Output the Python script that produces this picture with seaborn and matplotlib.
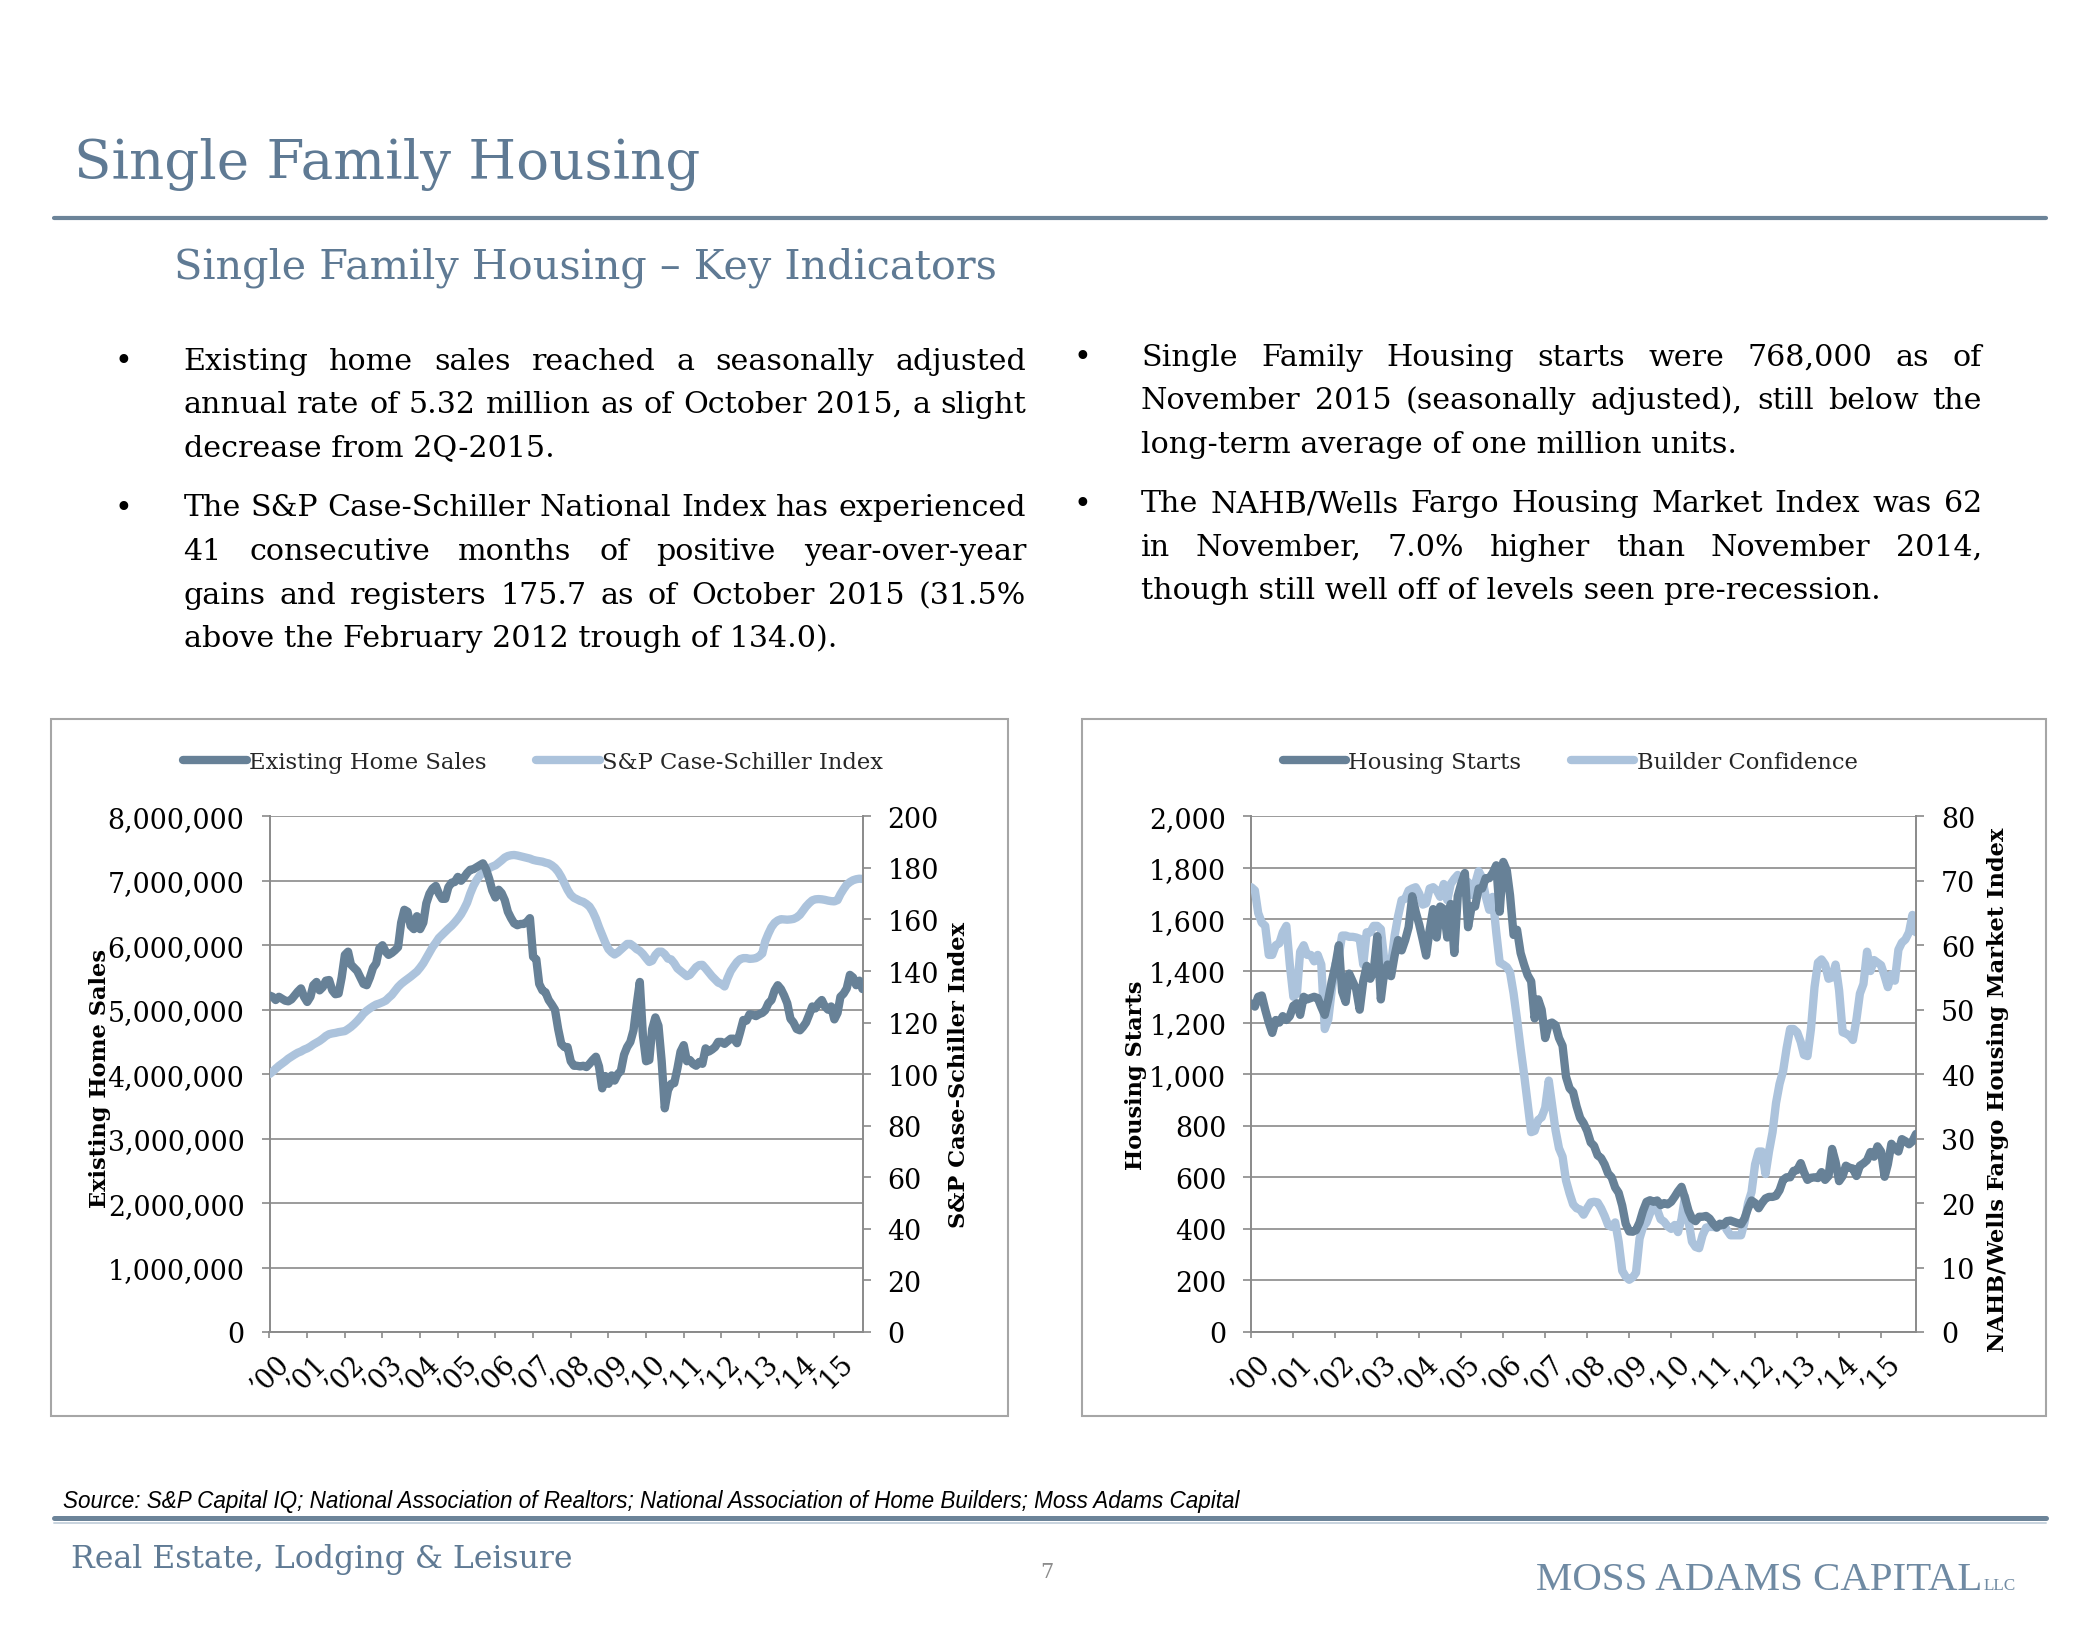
import matplotlib
matplotlib.use("Agg")
import matplotlib.pyplot as plt
import matplotlib.ticker as mticker
from matplotlib.lines import Line2D
from matplotlib.patches import Rectangle
import seaborn as sns
import pandas as pd

# ---- data ----
# existing home sales, millions SAAR, Jan 2000 - Oct 2015
existing_sales_mil = [
    5.22, 5.20, 5.15, 5.20, 5.17, 5.14, 5.13, 5.16, 5.22, 5.28, 5.33, 5.20,
    5.12, 5.20, 5.38, 5.43, 5.30, 5.35, 5.45, 5.46, 5.30, 5.24, 5.25, 5.50,
    5.85, 5.90, 5.70, 5.65, 5.60, 5.50, 5.40, 5.38, 5.50, 5.65, 5.72, 5.95,
    6.00, 5.90, 5.85, 5.88, 5.92, 5.97, 6.35, 6.55, 6.52, 6.30, 6.25, 6.45,
    6.25, 6.35, 6.65, 6.80, 6.88, 6.92, 6.80, 6.72, 6.72, 6.90, 6.97, 6.98,
    7.06, 7.00, 7.05, 7.12, 7.17, 7.18, 7.21, 7.24, 7.27, 7.18, 7.03, 6.85,
    6.74, 6.86, 6.81, 6.70, 6.52, 6.42, 6.34, 6.31, 6.33, 6.33, 6.36, 6.42,
    5.82, 5.78, 5.40, 5.30, 5.27, 5.15, 5.08, 5.00, 4.70, 4.47, 4.42, 4.42,
    4.20, 4.13, 4.13, 4.12, 4.13, 4.11, 4.16, 4.22, 4.27, 4.12, 3.78, 3.97,
    3.85, 3.98, 3.90, 4.00, 4.05, 4.30, 4.42, 4.50, 4.68, 5.07, 5.43, 4.60,
    4.20, 4.22, 4.70, 4.88, 4.75, 4.20, 3.47, 3.75, 3.85, 3.86, 4.09, 4.35,
    4.45, 4.20, 4.22, 4.16, 4.13, 4.19, 4.16, 4.40, 4.35, 4.38, 4.42, 4.50,
    4.50, 4.47, 4.51, 4.55, 4.55, 4.48, 4.65, 4.84, 4.83, 4.93, 4.92, 4.90,
    4.93, 4.95, 4.99, 5.10, 5.15, 5.30, 5.38, 5.32, 5.22, 5.10, 4.86, 4.80,
    4.70, 4.68, 4.73, 4.80, 4.92, 5.05, 5.02, 5.10, 5.15, 5.05, 5.00, 5.05,
    4.85, 4.95, 5.20, 5.25, 5.33, 5.54, 5.50, 5.38, 5.45, 5.32,
]

# S&P Case-Shiller national index, Jan 2000 - Oct 2015
case_shiller = [
    100.0, 101.0, 102.1, 103.2, 104.1, 105.0, 106.0, 106.8, 107.6, 108.3, 108.8, 109.5,
    110.0, 110.7, 111.5, 112.2, 112.9, 113.8, 114.8, 115.5, 115.8, 116.0, 116.3, 116.5,
    116.7, 117.5, 118.3, 119.4, 120.6, 122.0, 123.5, 124.6, 125.5, 126.3, 127.0, 127.4,
    127.9, 128.5, 129.6, 130.7, 132.2, 133.8, 135.0, 136.0, 136.9, 137.8, 138.8, 139.8,
    141.3, 143.0, 145.0, 147.2, 149.3, 151.0, 152.8, 154.0, 155.2, 156.4, 157.5, 158.8,
    160.3, 162.0, 164.0, 166.5, 170.0, 173.0, 175.2, 177.0, 178.1, 179.0, 179.9, 180.5,
    181.0, 182.0, 182.9, 184.0, 184.6, 184.9, 185.0, 184.8, 184.5, 184.2, 183.9, 183.6,
    183.1, 182.8, 182.6, 182.4, 182.0, 181.7, 181.0, 180.0, 178.5, 176.5, 174.0, 171.5,
    169.5, 168.4, 167.8, 167.2, 166.8, 166.0, 165.0, 163.0, 160.3, 157.0, 154.0, 151.0,
    148.5, 147.2, 146.4, 147.2, 148.3, 149.4, 150.5, 150.5, 149.6, 148.5, 147.8, 146.6,
    145.0, 143.5, 144.0, 146.2, 147.5, 147.5, 146.5, 144.8, 144.5, 143.0, 141.0, 140.0,
    139.0, 138.0, 138.5, 140.0, 141.5, 142.3, 142.4, 141.0, 139.5, 138.0, 136.7, 135.5,
    135.0, 134.0, 137.2, 140.0, 141.8, 143.5, 144.6, 145.0, 145.0, 144.7, 144.8, 145.0,
    145.7, 146.8, 151.5, 154.5, 157.0, 158.7, 159.6, 160.1, 160.0, 159.9, 160.0, 160.2,
    160.8, 161.8, 163.3, 165.0, 166.3, 167.4, 167.8, 167.9, 167.8, 167.6, 167.3, 167.1,
    167.0, 167.5, 169.8, 171.8, 173.5, 174.5, 175.2, 175.6, 175.8, 175.7,
]

# single family housing starts, thousands SAAR, Jan 2000 - Nov 2015
housing_starts = [
    1274, 1262, 1300, 1305, 1250, 1200, 1160, 1210, 1200, 1225, 1210, 1225,
    1265, 1275, 1230, 1300, 1290, 1295, 1300, 1295, 1260, 1230, 1290, 1360,
    1420, 1500, 1320, 1280, 1390, 1360, 1330, 1250, 1360, 1420, 1370, 1400,
    1535, 1290, 1390, 1425, 1380, 1460, 1520, 1480, 1520, 1570, 1690, 1630,
    1580, 1520, 1460, 1560, 1640, 1530, 1650, 1640, 1530, 1660, 1470, 1690,
    1740, 1780, 1570, 1650, 1650, 1720, 1720, 1760, 1760, 1780, 1810, 1630,
    1823, 1790, 1694, 1540, 1560, 1470, 1425, 1384, 1360, 1216, 1290, 1250,
    1140, 1195, 1200, 1190, 1140, 1110, 990, 945, 930, 875, 830, 810,
    780, 735, 722, 685, 675, 650, 615, 600, 560, 540, 490, 420,
    390, 389, 395, 425, 470, 505, 511, 505, 510, 492, 500, 495,
    505, 525, 545, 563, 520, 470, 440, 430, 447, 447, 450, 440,
    420, 405, 420, 415, 430, 432, 427, 422, 418, 440, 480, 510,
    500, 480, 500, 518, 524, 524, 528, 550, 590, 600, 600, 625,
    628, 655, 620, 590, 598, 600, 597, 620, 590, 605, 710, 660,
    585, 605, 645, 637, 634, 605, 645, 654, 666, 698, 680, 720,
    700, 602, 650, 730, 712, 700, 748, 740, 728, 740, 768,
]

# NAHB / Wells Fargo housing market index, Jan 2000 - Nov 2015
builder_conf = [
    69, 68.5, 65, 63.5, 63, 58.5, 58.5, 60, 60.3, 62, 63, 57,
    52, 52.5, 59, 60, 58.5, 58.5, 57.5, 58.5, 57, 47, 48.5, 53,
    57, 58.5, 61.5, 61.5, 61.3, 61.3, 61.2, 61, 57, 62, 62, 63,
    63, 62.5, 58, 55.3, 57, 61.5, 64.5, 67, 67.2, 68.5, 68.8, 69,
    68, 66.3, 66.5, 68.8, 69, 68.5, 67.5, 69.5, 67, 69.5, 70.3, 70.9,
    70.5, 70, 69.8, 67.8, 69.5, 71.5, 70.5, 67.6, 65.5, 67.5, 62, 57.3,
    57, 56.6, 55.8, 52.5, 48.5, 44, 40, 35.5, 31, 31.2, 32.9, 33.3,
    34.8, 39, 35.3, 31.3, 28.5, 27.2, 23.5, 21.5, 19.8, 19.2, 19, 18.2,
    19.2, 20.1, 20.2, 20.1, 19.2, 18, 16.6, 16.3, 17, 14, 9.5, 8.6,
    8.1, 8.5, 9.2, 14.5, 16.3, 17, 18.4, 19.5, 19, 17.5, 17.1, 16.4,
    16, 16.6, 15.5, 17.5, 21, 17.2, 14, 13.2, 13, 15, 16.2, 16.3,
    16.3, 16.2, 16.5, 16.8, 15.8, 15, 15, 15, 15, 17, 20, 21.7,
    26, 28, 28, 24.5, 28, 31, 35.5, 38.5, 40.5, 44, 47, 47,
    46.5, 45, 43, 42.8, 47, 53.5, 57.3, 57.8, 57, 54.8, 55, 57,
    53, 46.5, 46.3, 46, 45.3, 48.5, 52.5, 54, 59, 56, 57.7, 57.3,
    56.9, 55.2, 53.5, 55.5, 54.5, 59.3, 60.4, 60.9, 62, 64.7, 62,
]

year_labels = ["\u2019%02d" % y for y in range(0, 16)]
year_starts = pd.to_datetime([f"{2000 + y}-01-01" for y in range(16)])
months_left = pd.date_range("2000-01-01", periods=len(existing_sales_mil), freq="MS")
months_right = pd.date_range("2000-01-01", periods=len(housing_starts), freq="MS")

left_df = pd.DataFrame({"month": months_left,
                        "sales": [v * 1e6 for v in existing_sales_mil],
                        "cs": case_shiller})
right_df = pd.DataFrame({"month": months_right,
                         "starts": housing_starts,
                         "hmi": builder_conf})

# ---- style ----
DARK = "#678197"
LIGHT = "#acc3dc"
GRID = "#8a8a8a"
SLATE = "#5f7a94"
LW = 6
W, H = 2100, 1640

sns.set_theme(style="white")
plt.rcParams["font.family"] = ["DejaVu Serif"]

fig = plt.figure(figsize=(21, 16.4), dpi=100)
R = fig.canvas.get_renderer()


def fx(x):
    return x / W


def fy(y):
    return 1 - y / H


def size_for(s, target, base=20, **kw):
    t = fig.text(0, 0, s, fontsize=base, **kw)
    w = t.get_window_extent(R).width
    t.remove()
    return base * target / w


tick_fs = size_for("8,000,000", 137)
ylab_fs = size_for("NAHB/Wells Fargo Housing Market Index", 525, fontweight="bold")
leg_fs = size_for("S&P Case-Schiller Index", 281)


def make_chart(df, xcol, dark_col, light_col, rect, lmax, lstep, rmax, rstep,
               lfmt, llabel, rlabel, lcoords, rcoords):
    ax_l = fig.add_axes(rect)
    ax_r = ax_l.twinx()
    ax_d = fig.add_axes(rect, sharex=ax_l, sharey=ax_l)
    ax_d.axis("off")

    sns.lineplot(data=df, x=xcol, y=light_col, ax=ax_r, color=LIGHT,
                 linewidth=LW, estimator=None)
    sns.lineplot(data=df, x=xcol, y=dark_col, ax=ax_d, color=DARK,
                 linewidth=LW, estimator=None)

    ax_l.set_xlim(df[xcol].iloc[0], df[xcol].iloc[-1])
    ax_l.set_ylim(0, lmax)
    ax_r.set_ylim(0, rmax)
    ax_l.set_yticks([i * lstep for i in range(int(round(lmax / lstep)) + 1)])
    ax_r.set_yticks([i * rstep for i in range(int(round(rmax / rstep)) + 1)])
    ax_l.yaxis.set_major_formatter(lfmt)
    ax_l.set_xticks(year_starts)
    ax_l.set_xticklabels(year_labels, rotation=45, ha="center")

    ax_l.yaxis.grid(True, color=GRID, linewidth=1.2)
    ax_l.xaxis.grid(False)
    for a in (ax_l, ax_r):
        for sp in a.spines.values():
            sp.set_visible(False)
    ax_l.spines["left"].set_visible(True)
    ax_l.spines["bottom"].set_visible(True)
    ax_r.spines["right"].set_visible(True)
    for sp in (ax_l.spines["left"], ax_l.spines["bottom"], ax_r.spines["right"]):
        sp.set_color(GRID)
        sp.set_linewidth(1.4)

    ax_l.tick_params(axis="y", which="major", left=True, length=6, width=1.2,
                     color=GRID, pad=12, labelsize=tick_fs, labelcolor="black")
    ax_l.tick_params(axis="x", which="major", bottom=True, length=4, width=1.2,
                     color=GRID, pad=9, labelsize=tick_fs, labelcolor="black")
    ax_r.tick_params(axis="y", which="major", right=True, length=6, width=1.2,
                     color=GRID, pad=12, labelsize=tick_fs, labelcolor="black")

    ax_l.set_xlabel("")
    ax_l.set_ylabel(llabel, fontsize=ylab_fs, fontweight="bold", color="black")
    ax_r.set_ylabel(rlabel, fontsize=ylab_fs, fontweight="bold", color="black")
    ax_l.yaxis.label.set_va("center")
    ax_r.yaxis.label.set_va("center")
    ax_l.yaxis.set_label_coords(*lcoords)
    ax_r.yaxis.set_label_coords(*rcoords)
    return ax_l, ax_r


def rect_px(x0, y0, x1, y1):
    return [fx(x0), fy(y1), (x1 - x0) / W, (y1 - y0) / H]


make_chart(left_df, "month", "sales", "cs", rect_px(269.5, 817.3, 862.5, 1333),
           8e6, 1e6, 200, 20, mticker.StrMethodFormatter("{x:,.0f}"),
           "Existing Home Sales", "S&P Case-Schiller Index",
           (-0.286, 0.494), (1.163, 0.50))
make_chart(right_df, "month", "starts", "hmi", rect_px(1251.3, 817.3, 1916, 1333),
           2000, 200, 80, 10, mticker.StrMethodFormatter("{x:,.0f}"),
           "Housing Starts", "NAHB/Wells Fargo Housing Market Index",
           (-0.174, 0.50), (1.123, 0.471))

# chart frames
for (x0, y0, x1, y1) in [(51, 720, 1008, 1417), (1082, 720, 2046, 1417)]:
    fig.add_artist(Rectangle((fx(x0), fy(y1)), (x1 - x0) / W, (y1 - y0) / H,
                             transform=fig.transFigure, fill=False,
                             edgecolor="#a6a6a6", linewidth=1.5))

# legends
def legend(names, cx, cy):
    handles = [Line2D([], [], color=DARK, linewidth=LW),
               Line2D([], [], color=LIGHT, linewidth=LW)]
    fig.legend(handles, names, loc="center", bbox_to_anchor=(fx(cx), fy(cy)),
               ncol=2, frameon=False, fontsize=leg_fs, handlelength=2.8,
               handletextpad=0.1, columnspacing=2.2, borderaxespad=0)


legend(["Existing Home Sales", "S&P Case-Schiller Index"], 533, 763)
legend(["Housing Starts", "Builder Confidence"], 1570, 763)

# ---- slide text ----
def fit_text(x, y, s, target, **kw):
    fs = size_for(s, target, **{k: v for k, v in kw.items() if k in ("fontweight", "fontstyle", "family")})
    return fig.text(fx(x), fy(y), s, fontsize=fs, va="baseline", **kw)


fit_text(73.7, 179, "Single Family Housing", 625, color=SLATE)
fit_text(174, 279, "Single Family Housing \u2013 Key Indicators", 824, color=SLATE)
fig.add_artist(Line2D([fx(53.6), fx(2046)], [fy(219), fy(219)],
                      transform=fig.transFigure, color="#6c8499", linewidth=3))

body_fs = size_for("above the February 2012 trough of 134.0).", 651)


def para_line(s, x0, x1, y, justify):
    if not justify:
        fig.text(fx(x0), fy(y), s, fontsize=body_fs, va="baseline", color="black")
        return
    words = s.split()
    texts = [fig.text(0, 0, w, fontsize=body_fs, va="baseline", color="black") for w in words]
    widths = [t.get_window_extent(R).width for t in texts]
    gap = (x1 - x0 - sum(widths)) / (len(words) - 1)
    x = x0
    for t, w in zip(texts, widths):
        t.set_position((fx(x), fy(y)))
        x += w + gap


left_col = [
    ["Existing home sales reached a seasonally adjusted",
     "annual rate of 5.32 million as of October 2015, a slight",
     "decrease from 2Q-2015."],
    ["The S&P Case-Schiller National Index has experienced",
     "41 consecutive months of positive year-over-year",
     "gains and registers 175.7 as of October 2015 (31.5%",
     "above the February 2012 trough of 134.0)."],
]
right_col = [
    ["Single Family Housing starts were 768,000 as of",
     "November 2015 (seasonally adjusted), still below the",
     "long-term average of one million units."],
    ["The NAHB/Wells Fargo Housing Market Index was 62",
     "in November, 7.0% higher than November 2014,",
     "though still well off of levels seen pre-recession."],
]


def column(paras, bx, x0, x1, baselines):
    k = 0
    for para in paras:
        fig.text(fx(bx), fy(baselines[k]), "\u2022", fontsize=body_fs, ha="center",
                 va="baseline", color="black")
        for j, line in enumerate(para):
            para_line(line, x0, x1, baselines[k], j < len(para) - 1)
            k += 1


column(left_col, 123, 183.5, 1026, [369.6, 413, 456.5, 516.5, 560, 604, 647])
column(right_col, 1082, 1141, 1982, [366, 409, 453, 512.5, 556, 599])

# footer
fit_text(63, 1508, "Source: S&P Capital IQ; National Association of Realtors; "
         "National Association of Home Builders; Moss Adams Capital", 1178,
         family="Liberation Sans", fontstyle="italic", color="black")
fig.add_artist(Line2D([fx(53.6), fx(2046)], [fy(1519), fy(1519)],
                      transform=fig.transFigure, color="#6c8499", linewidth=3.6))
fig.add_artist(Line2D([fx(53.6), fx(2046)], [fy(1523.5), fy(1523.5)],
                      transform=fig.transFigure, color="#c8d3de", linewidth=1.4))
fit_text(71, 1568, "Real Estate, Lodging & Leisure", 501, color=SLATE)
fig.text(fx(1047), fy(1578), "7", fontsize=15, ha="center", va="baseline",
         color="#8c8c8c")
moss = fit_text(1536, 1590, "MOSS ADAMS CAPITAL", 446, family="Liberation Serif",
                color="#6f8aa3")
fig.text(fx(1984), fy(1590), "LLC", fontsize=moss.get_fontsize() * 0.42,
         family="Liberation Serif", va="baseline", color="#6f8aa3")

fig.savefig("out.png", dpi=100)
